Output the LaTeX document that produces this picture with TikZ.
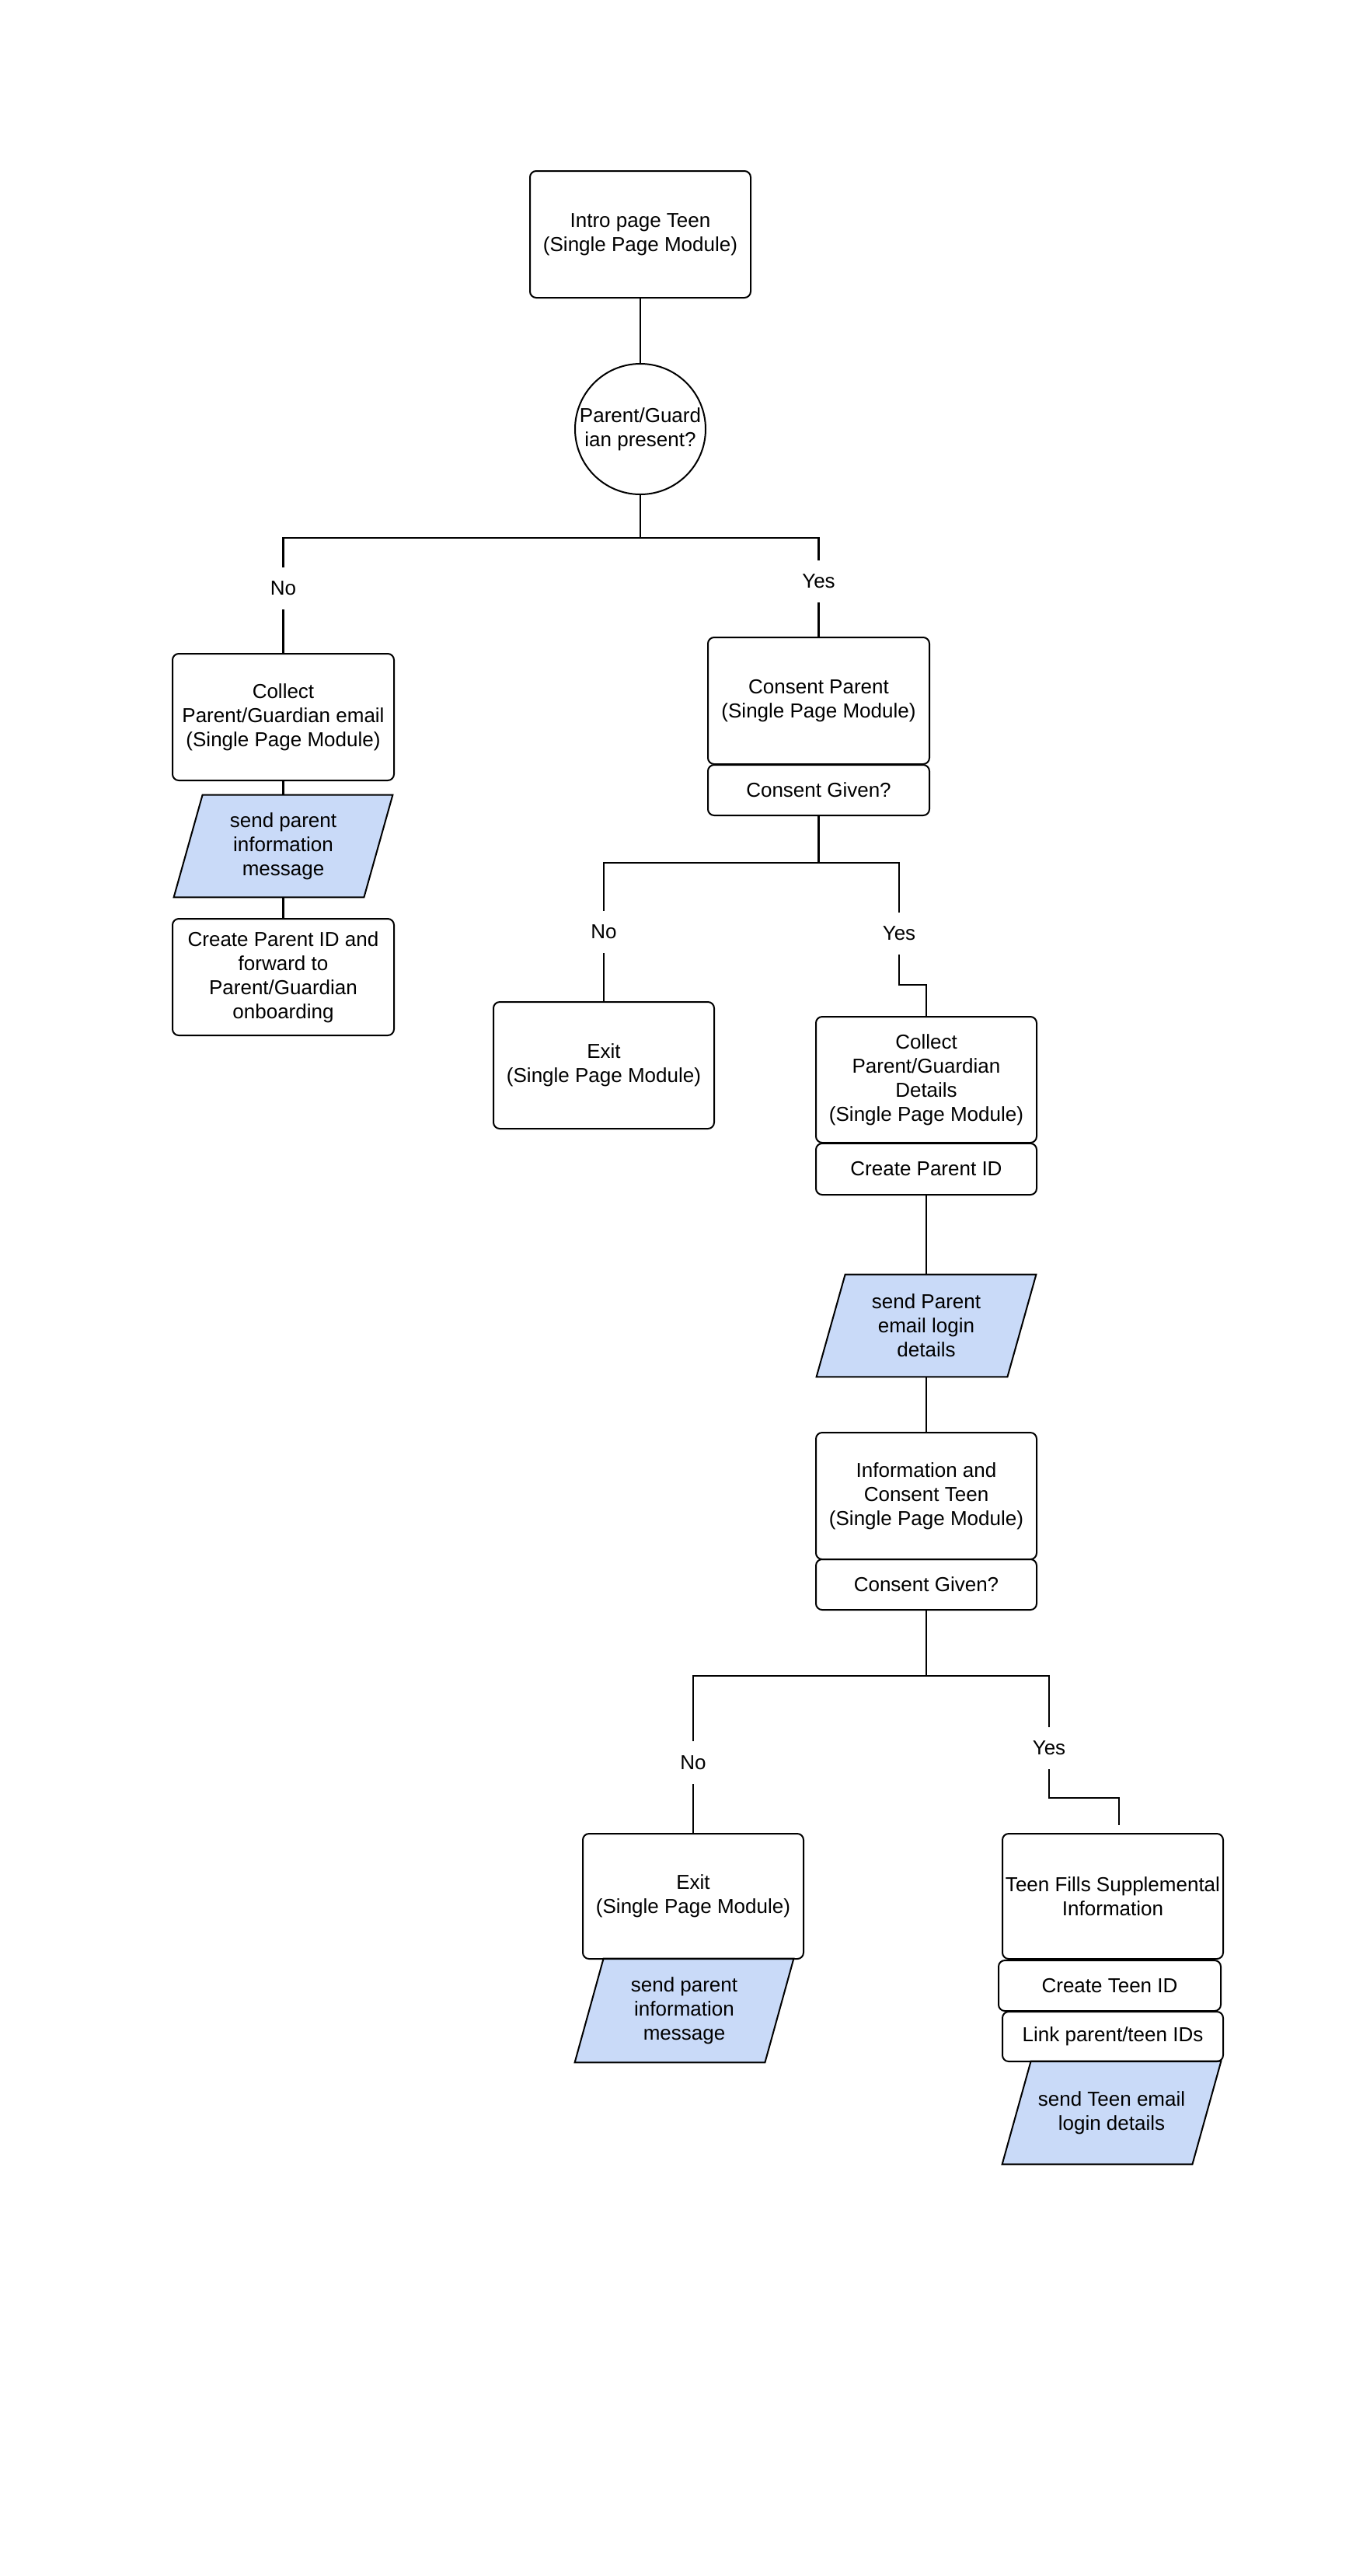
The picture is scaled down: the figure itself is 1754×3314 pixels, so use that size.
\documentclass[tikz,border=0pt]{standalone}
\usepackage{fontspec}
\setmainfont{Liberation Sans}
\usetikzlibrary{backgrounds}
\definecolor{ioblue}{RGB}{201,218,248}

\begin{document}
\begin{tikzpicture}[
x=0.5pt, y=-0.5pt,
font=\fontsize{13}{15.5}\selectfont,
  box/.style = {rectangle, draw, rounded corners=4pt, line width=1pt,
                align=center, inner sep=1pt,
                minimum width=142pt, minimum height=81.5pt},% page modules
  tab/.style = {box, minimum height=32.5pt},% thin boxes under a module
   io/.style = {rectangle, align=center, inner sep=1pt,
                minimum width=122pt, minimum height=65.5pt},% messages sent, slanted below
  ask/.style = {circle, draw, line width=1pt, minimum size=84pt,
                inner sep=0pt, align=center},
  lbl/.style = {fill=white, inner xsep=2pt, inner ysep=9pt},
 wire/.style = {line width=1.1pt},
                        ]
\useasboundingbox (0,0) rectangle (1754,3314);
% teen start
\node[box] (intro) at (824,301.5) {Intro page Teen\\(Single Page Module)};
\node[ask] (present) at (824,552) {Parent/Guard\\ian present?};
% no parent present
\node[box, minimum width=142.5pt] (collect) at (364.5,922.5) {Collect\\Parent/Guardian email\\(Single Page Module)};
\node[io] (sendinfo) at (364.5,1088.5) {send parent\\information\\message};
\node[box, minimum width=142.5pt, minimum height=75pt] (forward) at (364.5,1257) {Create Parent ID and\\forward to\\Parent/Guardian\\onboarding};
% parent present
\node[box, minimum width=142.5pt] (cparent) at (1053.5,901.5) {Consent Parent\\(Single Page Module)};
\node[tab, minimum width=142.5pt] (given) at (1053.5,1016.5) {Consent Given?};
\node[box] (exit) at (777,1370.5) {Exit\\(Single Page Module)};
\node[box, minimum height=81pt] (details) at (1192,1389) {Collect\\Parent/Guardian\\Details\\(Single Page Module)};
\node[tab, minimum height=33pt] (parentid) at (1192,1504) {Create Parent ID};
\node[io, minimum width=122.5pt] (sendlogin) at (1192,1705.5) {send Parent\\email login\\details};
\node[box] (cteen) at (1192,1924.5) {Information and\\Consent Teen\\(Single Page Module)};
\node[tab] (tgiven) at (1192,2038.5) {Consent Given?};
% teen answer
\node[box, minimum height=80.5pt] (texit) at (892,2439.5) {Exit\\(Single Page Module)};
\node[io, minimum height=66.5pt] (tsendinfo) at (880.5,2586.5) {send parent\\information\\message};
\node[box, minimum height=80.5pt] (supp) at (1432,2439.5) {Teen Fills Supplemental\\Information};
\node[tab, minimum width=143pt] (teenid) at (1428,2554.5) {Create Teen ID};
\node[tab, minimum height=32pt] (ids) at (1432,2620) {Link parent/teen IDs};
\node[io, minimum height=66pt] (sendteen) at (1430.5,2718) {send Teen email\\login details};

% slanted message shapes
\begin{scope}[on background layer]
\foreach \n in {sendinfo,sendlogin,tsendinfo,sendteen}
    \draw[line width=1pt, fill=ioblue] ([xshift=9.25pt]\n.north west) -- ([xshift=9.25pt]\n.north east)
        -- ([xshift=-9.25pt]\n.south east) -- ([xshift=-9.25pt]\n.south west) -- cycle;
\end{scope}

\coordinate (fork1) at (824,692);
\coordinate (fork2) at (1053.5,1110);
\coordinate (bend2) at (1157,1267);
\coordinate (fork3) at (1192,2156);
\coordinate (bend3) at (1350,2313);
\coordinate (stub3) at (1440,2348);

\draw[wire] (intro) -- (present);
\draw[wire] (present) -- (fork1);
\draw[wire] (fork1) -| node[lbl, pos=0.72] {No} (collect.north);
\draw[wire] (fork1) -| node[lbl, pos=0.72] {Yes} (cparent.north);
\draw[wire] (collect) -- (sendinfo);
\draw[wire] (sendinfo) -- (forward);
\draw[wire] (given) -- (fork2);
\draw[wire] (fork2) -| node[lbl, pos=0.75] {No} (exit.north);
\draw[wire] (fork2) -| node[lbl, pos=0.79] {Yes} (bend2) -| (details.north);
\draw[wire] (parentid) -- (sendlogin);
\draw[wire] (sendlogin) -- (cteen);
\draw[wire] (tgiven) -- (fork3);
\draw[wire] (fork3) -| node[lbl, pos=0.776] {No} (texit.north);
\draw[wire] (fork3) -| node[lbl, pos=0.796] {Yes} (bend3) -| (stub3);
\end{tikzpicture}
\end{document}
